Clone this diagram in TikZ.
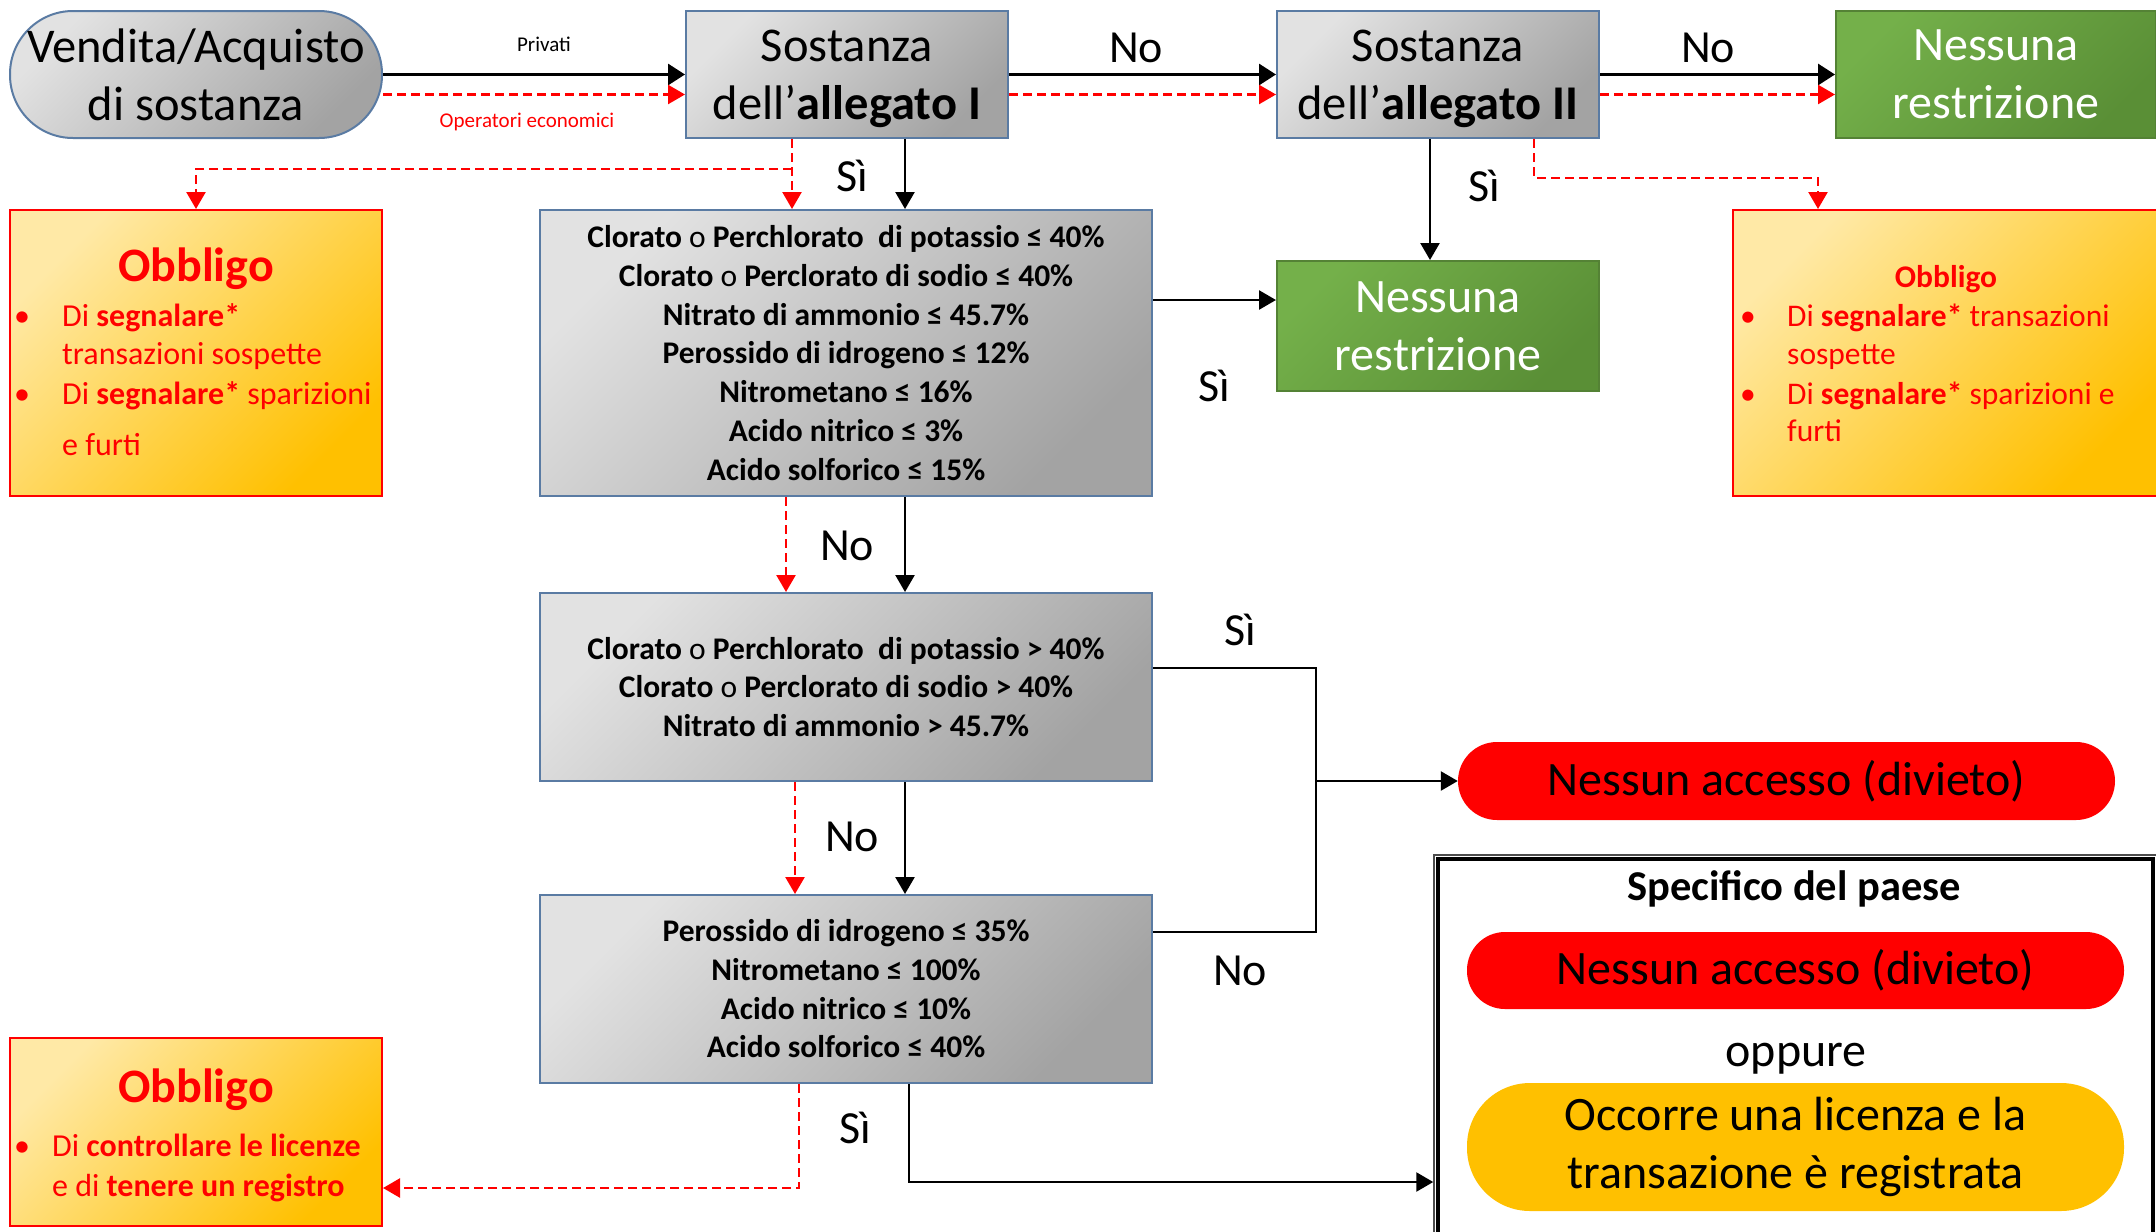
\documentclass[tikz,border=0pt]{standalone}
\usepackage{fontspec}
\setmainfont{Carlito}
\usetikzlibrary{arrows.meta}
\definecolor{bordblue}{HTML}{5A7BA3}
\definecolor{grayL}{HTML}{E2E2E2}
\definecolor{grayD}{HTML}{A3A3A3}
\definecolor{greenL}{HTML}{74B04A}
\definecolor{greenD}{HTML}{5A8F36}
\definecolor{greenB}{HTML}{548235}
\definecolor{obL}{HTML}{FFE9A6}
\definecolor{obD}{HTML}{FFC000}
\definecolor{pillY}{HTML}{FFC000}
\newcommand{\myfs}[2]{\fontsize{#1}{#2}\selectfont}
\begin{document}
\begin{tikzpicture}[x=1pt,y=-1pt,
  graybox/.style={draw=bordblue, line width=2pt, top color=grayL, bottom color=grayD, shading angle=45, align=center, inner sep=0pt},
  bigtxt/.style={font=\myfs{48.5}{58}},
  greenbox/.style={draw=greenB, line width=2pt, top color=greenL, bottom color=greenD, shading angle=45, align=center, text=white, font=\myfs{48}{58}, minimum width=322pt, inner sep=0pt},
  obbox/.style={draw=red, line width=2pt, top color=obL, bottom color=obD, shading angle=45, inner sep=0pt},
  cond/.style={font=\bfseries\myfs{31.5}{38.7}},
  obt/.style={text=red, inner sep=0pt, font=\bfseries\myfs{48}{56}},
  obts/.style={text=red, inner sep=0pt, font=\bfseries\myfs{31.5}{38}},
  obi/.style={text=red, inner sep=0pt, anchor=base west, font=\myfs{32}{38}},
  lbl/.style={inner sep=0pt, font=\myfs{46}{54}},
  blk/.style={draw=black, line width=3pt, -{Triangle[length=17pt,width=21pt]}},
  blk2/.style={draw=black, line width=2.5pt, -{Triangle[length=17pt,width=19pt]}},
  plain/.style={draw=black, line width=2.5pt},
  rdash/.style={draw=red, line width=2.5pt, dash pattern=on 9pt off 5pt, -{Triangle[length=17pt,width=19pt]}},
  pill/.style={inner sep=0pt, align=center, font=\myfs{48}{58}}
]
\useasboundingbox (0,0) rectangle (2156,1232);
\clip (0,0) rectangle (2156,1232);

% top row
\node[graybox, bigtxt, rounded corners=63pt, minimum width=372pt, minimum height=127pt] (start) at (196,74.5) {Vendita/Acquisto\\di sostanza};
\node[graybox, bigtxt, minimum width=322pt, minimum height=127pt] (A1) at (847,74.5) {\rule{0pt}{40pt}Sostanza\\dell’\textbf{allegato I}};
\node[graybox, bigtxt, minimum width=322pt, minimum height=127pt] (A2) at (1438,74.5) {\rule{0pt}{40pt}Sostanza\\dell’\textbf{allegato II}};
\node[greenbox, minimum width=320pt, minimum height=127pt] (G1) at (1996,74.5) {Nessuna\\restrizione};

% second row
\node[obbox, minimum width=372pt, minimum height=286pt] (ObL) at (196,353) {};
\node[graybox, cond, minimum width=612pt, minimum height=286pt] (B1) at (846,353)
 {Clorato {\mdseries o} Perchlorato\ \ di potassio ≤ 40\%\\
  Clorato {\mdseries o} Perclorato di sodio ≤ 40\%\\
  Nitrato di ammonio ≤ 45.7\%\\
  Perossido di idrogeno ≤ 12\%\\
  Nitrometano ≤ 16\%\\
  Acido nitrico ≤ 3\%\\
  Acido solforico ≤ 15\%};
\node[greenbox, minimum height=130pt] (G2) at (1438,326) {Nessuna\\restrizione};
\node[obbox, minimum width=426pt, minimum height=286pt] (ObR) at (1946,353) {};

% left obbligo texts
\node[obt] (ObLt) at (196,269) {Obbligo};
\node[obi] (ObLb1) at (14,326) {•};
\node[obi] (ObLi1) at (62,326) {Di \textbf{segnalare*}};
\node[obi] (ObLi2) at (62,364) {transazioni sospette};
\node[obi] (ObLb2) at (14,404) {•};
\node[obi] (ObLi3) at (62,404) {Di \textbf{segnalare*} sparizioni};
\node[obi] (ObLi4) at (62,455) {e furti};

% right obbligo texts
\node[obts] (ObRt) at (1946,279) {Obbligo};
\node[obi, font=\myfs{31.5}{38}] (ObRb1) at (1740,326) {•};
\node[obi, font=\myfs{31.5}{38}] (ObRi1) at (1787,326) {Di \textbf{segnalare*} transazioni};
\node[obi, font=\myfs{31.5}{38}] (ObRi2) at (1787,364) {sospette};
\node[obi, font=\myfs{31.5}{38}] (ObRb2) at (1740,404) {•};
\node[obi, font=\myfs{31.5}{38}] (ObRi3) at (1787,404) {Di \textbf{segnalare*} sparizioni e};
\node[obi, font=\myfs{31.5}{38}] (ObRi4) at (1787,441) {furti};

% third / fourth rows
\node[graybox, cond, minimum width=612pt, minimum height=188pt] (B2) at (846,687)
 {Clorato {\mdseries o} Perchlorato\ \ di potassio > 40\%\\
  Clorato {\mdseries o} Perclorato di sodio > 40\%\\
  Nitrato di ammonio > 45.7\%};
\node[graybox, cond, minimum width=612pt, minimum height=188pt] (B3) at (846,989)
 {Perossido di idrogeno ≤ 35\%\\
  Nitrometano ≤ 100\%\\
  Acido nitrico ≤ 10\%\\
  Acido solforico ≤ 40\%};

\node[pill, fill=red, rounded corners=39pt, minimum width=657pt, minimum height=78pt] (NA) at (1786.5,781) {Nessun accesso (divieto)};

% country specific box
\node[draw=black!70, line width=1.5pt, minimum width=724pt, minimum height=450pt, inner sep=0pt] (spec) at (1796,1080) {};
\draw[line width=4pt] ([shift={(5pt,-5pt)}]spec.north west) rectangle ([shift={(-6pt,5pt)}]spec.south east);
\node[inner sep=0pt, font=\bfseries\myfs{42.5}{50}] (specT) at (1794,889) {Specifico del paese};
\node[pill, fill=red, rounded corners=38pt, minimum width=657pt, minimum height=77pt] (NA2) at (1795.5,970.5) {Nessun accesso (divieto)};
\node[inner sep=0pt, font=\myfs{48}{56}] (opp) at (1796,1059) {oppure};
\node[pill, fill=pillY, rounded corners=63pt, minimum width=657pt, minimum height=128pt, font=\myfs{48}{57.5}] (YL) at (1795.5,1147) {Occorre una licenza e la\\transazione è registrata};

% bottom-left obbligo
\node[obbox, minimum width=372pt, minimum height=188pt] (ObB) at (196,1132) {};
\node[obt] (ObBt) at (196,1090) {Obbligo};
\node[obi] (ObBb1) at (14,1156) {•};
\node[obi] (ObBi1) at (52,1156) {Di \textbf{controllare le licenze}};
\node[obi] (ObBi2) at (52,1196) {e di \textbf{tenere un registro}};

% connectors top row
\draw[blk] (start.east) -- (A1.west);
\draw[rdash] ([yshift=-20pt]start.east) -- ([yshift=-20pt]A1.west);
\draw[blk] (A1.east) -- (A2.west);
\draw[rdash] ([yshift=-20pt]A1.east) -- ([yshift=-20pt]A2.west);
\draw[blk] (A2.east) -- (G1.west);
\draw[rdash] ([yshift=-20pt]A2.east) -- ([yshift=-20pt]G1.west);
\node[inner sep=0pt, font=\myfs{21}{25}] (lPriv) at (544,44) {Privati};
\node[inner sep=0pt, font=\myfs{21}{25}, text=red] (lOper) at (527,122) {Operatori economici};
\node[lbl] (lNo1) at (1136,48) {No};
\node[lbl] (lNo2) at (1708,48) {No};

% from A1
\draw[blk2] ([xshift=58pt]A1.south) -- ([xshift=58pt]A1.south |- B1.north);
\draw[rdash] ([xshift=-55pt]A1.south) -- ([xshift=-55pt]A1.south |- B1.north);
\draw[rdash] ([xshift=-55pt,yshift=-30pt]A1.south) -| (ObL.north);
\node[lbl] (lSi1) at (852,176) {Sì};

% from A2
\draw[blk2] ([xshift=-8pt]A2.south) -- ([xshift=-8pt]A2.south |- G2.north);
\draw[rdash] ([xshift=96pt]A2.south) |- ([xshift=-128pt,yshift=31pt]ObR.north) -- ([xshift=-128pt]ObR.north);
\node[lbl] (lSi2) at (1484,186) {Sì};

% from B1
\draw[blk2] ([yshift=53pt]B1.east) -- ([yshift=53pt]B1.east -| G2.west);
\node[lbl] (lSi3) at (1214,386) {Sì};
\draw[blk2] ([xshift=59pt]B1.south) -- ([xshift=59pt]B1.south |- B2.north);
\draw[rdash] ([xshift=-60pt]B1.south) -- ([xshift=-60pt]B1.south |- B2.north);
\node[lbl] (lNo3) at (847,546) {No};

% from B2
\draw[blk2] ([xshift=59pt]B2.south) -- ([xshift=59pt]B2.south |- B3.north);
\draw[rdash] ([xshift=-51pt]B2.south) -- ([xshift=-51pt]B2.south |- B3.north);
\node[lbl] (lNo4) at (852,837) {No};
\coordinate (J) at (1316,781);
\draw[plain] ([yshift=19pt]B2.east) -| (J) |- ([yshift=57pt]B3.east);
\draw[blk2] (J) -- (NA.west);
\node[lbl] (lSi4) at (1240,630) {Sì};
\node[lbl] (lNo5) at (1240,971) {No};

% from B3
\draw[blk2] ([xshift=63pt]B3.south) |- ([yshift=-102pt]spec.west);
\draw[rdash] ([xshift=-47pt]B3.south) |- ([yshift=-56pt]ObB.east);
\node[lbl] (lSi5) at (855,1128) {Sì};
\end{tikzpicture}
\end{document}
